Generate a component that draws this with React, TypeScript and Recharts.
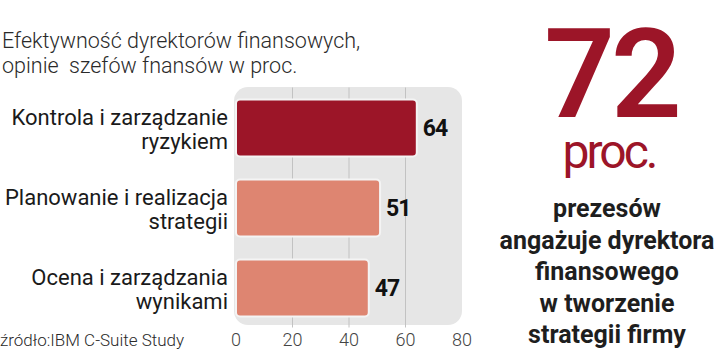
import React from 'react';
import { BarChart, Bar, XAxis, YAxis, CartesianGrid, Cell, LabelList } from 'recharts';

const categories = [
  'Kontrola i zarządzanie\nryzykiem',
  'Planowanie i realizacja\nstrategii',
  'Ocena i zarządzania\nwynikami',
];
const values = [64, 51, 47];
const barColors = ['#9c1528', '#de8571', '#de8571'];
const xTicks = [0, 20, 40, 60, 80];
const gridValues = [20, 40, 60];
const titleLines = ['Efektywność dyrektorów finansowych,', 'opinie\u00a0 szefów fnansów w proc.'];
const sourceText = 'źródło:IBM C-Suite Study';
const bigNumber = '72';
const bigUnit = 'proc.';
const sideLines = ['prezesów', 'angażuje dyrektora', 'finansowego', 'w tworzenie', 'strategii firmy'];

const data = categories.map((c, i) => ({ name: c, value: values[i] }));

const FONT = 'Roboto, "Liberation Sans", sans-serif';

const CategoryTick = (props: any) => {
  const { x, y, payload } = props;
  const lines = String(payload.value).split('\n');
  return (
    <text x={x} y={y} textAnchor="end" fontFamily={FONT} fontSize={22} fill="#1a1a1a">
      {lines.map((l, i) => (
        <tspan key={i} x={x} dy={i === 0 ? -3 : 24}>
          {l}
        </tspan>
      ))}
    </text>
  );
};

export default function App() {
  return (
    <div style={{ position: 'absolute', left: 0, top: 0, width: 720, height: 353, background: '#fff', overflow: 'hidden' }}>
      <div
        style={{
          position: 'absolute',
          left: 234,
          top: 87,
          width: 228,
          height: 238,
          borderRadius: 14,
          background: '#e6e6e6',
        }}
      />
      <div style={{ position: 'absolute', left: 0, top: 0 }}>
        <BarChart
          width={720}
          height={353}
          data={data}
          layout="vertical"
          margin={{ top: 87.5, right: 258, bottom: 0, left: 0 }}
          barSize={57}
        >
          <CartesianGrid horizontal={false} vertical verticalValues={gridValues} stroke="#c2c2c2" strokeWidth={1} />
          <XAxis
            type="number"
            domain={[0, 80]}
            ticks={xTicks}
            axisLine={false}
            tickLine={false}
            height={25.5}
            tickMargin={0}
            tick={{ fontFamily: FONT, fontSize: 18, fill: '#444', fontWeight: 300 }}
            interval={0}
          />
          <YAxis
            type="category"
            dataKey="name"
            width={236}
            axisLine={false}
            tickLine={false}
            tickMargin={2}
            tick={<CategoryTick />}
            interval={0}
          />
          <Bar dataKey="value" isAnimationActive={false} radius={4} stroke="#f4f4f4" strokeWidth={2}>
            {data.map((d, i) => (
              <Cell key={i} fill={barColors[i]} />
            ))}
            <LabelList
              dataKey="value"
              position="right"
              offset={6}
              style={{ fontFamily: FONT, fontSize: 23, fontWeight: 700, fill: '#111', letterSpacing: -1 }}
            />
          </Bar>
        </BarChart>
      </div>
      <svg width={720} height={353} style={{ position: 'absolute', left: 0, top: 0, pointerEvents: 'none' }}>
        <text x={2} y={48} fontFamily={FONT} fontSize={21.5} fontWeight={300} fill="#2a2a2a">
          {titleLines[0]}
        </text>
        <text x={2} y={73} fontFamily={FONT} fontSize={21.5} fontWeight={300} fill="#2a2a2a">
          {titleLines[1]}
        </text>
        <text x={0} y={346} fontFamily={FONT} fontSize={17} fontWeight={300} fill="#2a2a2a">
          {sourceText}
        </text>
        <text x={611} y={117} textAnchor="middle" fontFamily={FONT} fontSize={124} fontWeight={600} fill="#9c1528" letterSpacing={-4}>
          {bigNumber}
        </text>
        <text x={609} y={168} textAnchor="middle" fontFamily={FONT} fontSize={48} fontWeight={400} fill="#9c1528" letterSpacing={-3}>
          {bigUnit}
        </text>
        {sideLines.map((l, i) => (
          <text key={i} x={607} y={217 + i * 31.5} textAnchor="middle" fontFamily={FONT} fontSize={25} fontWeight={700} fill="#1e1e1e">
            {l}
          </text>
        ))}
      </svg>
    </div>
  );
}
